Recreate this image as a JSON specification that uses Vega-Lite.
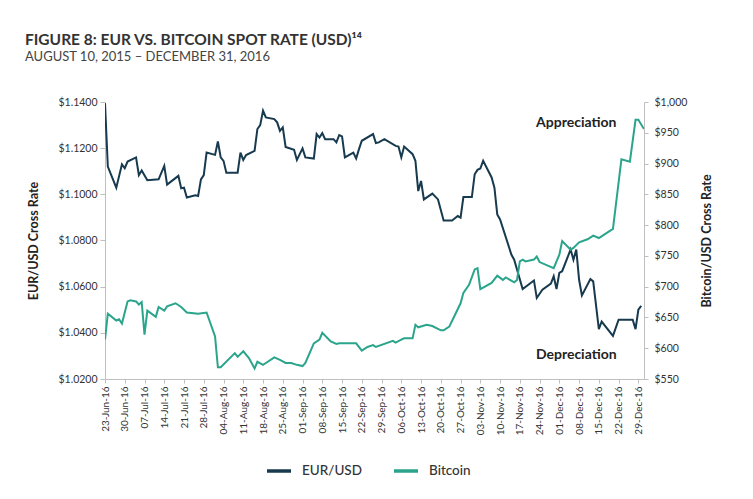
{
  "$schema": "https://vega.github.io/schema/vega-lite/v6.json",
  "width": 539,
  "height": 277,
  "autosize": {"type": "none"},
  "padding": {"left": 105, "top": 102, "right": 109, "bottom": 120},
  "background": "white",
  "title": {
    "text": "FIGURE 8: EUR VS. BITCOIN SPOT RATE (USD)¹⁴",
    "subtitle": "AUGUST 10, 2015 – DECEMBER 31, 2016",
    "anchor": "start",
    "frame": "group",
    "dx": -80,
    "offset": 33,
    "font": "Lato",
    "fontSize": 15.5,
    "fontWeight": "bold",
    "color": "#333333",
    "subtitleFont": "Lato",
    "subtitleFontSize": 13,
    "subtitleColor": "#444444",
    "subtitlePadding": 3
  },
  "datasets": {
    "rates": [
      {"date": "2016-06-23", "series": "EUR/USD", "value": 1.1395},
      {"date": "2016-06-24", "series": "EUR/USD", "value": 1.1120},
      {"date": "2016-06-27", "series": "EUR/USD", "value": 1.1029},
      {"date": "2016-06-29", "series": "EUR/USD", "value": 1.1130},
      {"date": "2016-06-30", "series": "EUR/USD", "value": 1.1113},
      {"date": "2016-07-01", "series": "EUR/USD", "value": 1.1142},
      {"date": "2016-07-04", "series": "EUR/USD", "value": 1.1160},
      {"date": "2016-07-05", "series": "EUR/USD", "value": 1.1083},
      {"date": "2016-07-06", "series": "EUR/USD", "value": 1.1103},
      {"date": "2016-07-08", "series": "EUR/USD", "value": 1.1061},
      {"date": "2016-07-12", "series": "EUR/USD", "value": 1.1065},
      {"date": "2016-07-14", "series": "EUR/USD", "value": 1.1123},
      {"date": "2016-07-15", "series": "EUR/USD", "value": 1.1042},
      {"date": "2016-07-19", "series": "EUR/USD", "value": 1.1080},
      {"date": "2016-07-20", "series": "EUR/USD", "value": 1.1026},
      {"date": "2016-07-21", "series": "EUR/USD", "value": 1.1029},
      {"date": "2016-07-22", "series": "EUR/USD", "value": 1.0986},
      {"date": "2016-07-25", "series": "EUR/USD", "value": 1.0996},
      {"date": "2016-07-26", "series": "EUR/USD", "value": 1.0993},
      {"date": "2016-07-27", "series": "EUR/USD", "value": 1.1065},
      {"date": "2016-07-28", "series": "EUR/USD", "value": 1.1083},
      {"date": "2016-07-29", "series": "EUR/USD", "value": 1.1181},
      {"date": "2016-08-01", "series": "EUR/USD", "value": 1.1171},
      {"date": "2016-08-02", "series": "EUR/USD", "value": 1.1229},
      {"date": "2016-08-03", "series": "EUR/USD", "value": 1.1160},
      {"date": "2016-08-04", "series": "EUR/USD", "value": 1.1145},
      {"date": "2016-08-05", "series": "EUR/USD", "value": 1.1094},
      {"date": "2016-08-09", "series": "EUR/USD", "value": 1.1094},
      {"date": "2016-08-10", "series": "EUR/USD", "value": 1.1181},
      {"date": "2016-08-11", "series": "EUR/USD", "value": 1.1149},
      {"date": "2016-08-12", "series": "EUR/USD", "value": 1.1170},
      {"date": "2016-08-15", "series": "EUR/USD", "value": 1.1188},
      {"date": "2016-08-16", "series": "EUR/USD", "value": 1.1283},
      {"date": "2016-08-17", "series": "EUR/USD", "value": 1.1300},
      {"date": "2016-08-18", "series": "EUR/USD", "value": 1.1362},
      {"date": "2016-08-19", "series": "EUR/USD", "value": 1.1333},
      {"date": "2016-08-22", "series": "EUR/USD", "value": 1.1326},
      {"date": "2016-08-23", "series": "EUR/USD", "value": 1.1312},
      {"date": "2016-08-24", "series": "EUR/USD", "value": 1.1275},
      {"date": "2016-08-25", "series": "EUR/USD", "value": 1.1290},
      {"date": "2016-08-26", "series": "EUR/USD", "value": 1.1205},
      {"date": "2016-08-29", "series": "EUR/USD", "value": 1.1193},
      {"date": "2016-08-30", "series": "EUR/USD", "value": 1.1149},
      {"date": "2016-09-01", "series": "EUR/USD", "value": 1.1199},
      {"date": "2016-09-02", "series": "EUR/USD", "value": 1.1160},
      {"date": "2016-09-05", "series": "EUR/USD", "value": 1.1155},
      {"date": "2016-09-06", "series": "EUR/USD", "value": 1.1261},
      {"date": "2016-09-07", "series": "EUR/USD", "value": 1.1246},
      {"date": "2016-09-08", "series": "EUR/USD", "value": 1.1265},
      {"date": "2016-09-09", "series": "EUR/USD", "value": 1.1239},
      {"date": "2016-09-12", "series": "EUR/USD", "value": 1.1239},
      {"date": "2016-09-13", "series": "EUR/USD", "value": 1.1225},
      {"date": "2016-09-14", "series": "EUR/USD", "value": 1.1257},
      {"date": "2016-09-15", "series": "EUR/USD", "value": 1.1251},
      {"date": "2016-09-16", "series": "EUR/USD", "value": 1.1160},
      {"date": "2016-09-19", "series": "EUR/USD", "value": 1.1181},
      {"date": "2016-09-20", "series": "EUR/USD", "value": 1.1155},
      {"date": "2016-09-21", "series": "EUR/USD", "value": 1.1196},
      {"date": "2016-09-22", "series": "EUR/USD", "value": 1.1232},
      {"date": "2016-09-26", "series": "EUR/USD", "value": 1.1261},
      {"date": "2016-09-27", "series": "EUR/USD", "value": 1.1222},
      {"date": "2016-09-28", "series": "EUR/USD", "value": 1.1225},
      {"date": "2016-09-30", "series": "EUR/USD", "value": 1.1239},
      {"date": "2016-10-04", "series": "EUR/USD", "value": 1.1210},
      {"date": "2016-10-05", "series": "EUR/USD", "value": 1.1207},
      {"date": "2016-10-06", "series": "EUR/USD", "value": 1.1160},
      {"date": "2016-10-07", "series": "EUR/USD", "value": 1.1207},
      {"date": "2016-10-10", "series": "EUR/USD", "value": 1.1174},
      {"date": "2016-10-11", "series": "EUR/USD", "value": 1.1145},
      {"date": "2016-10-12", "series": "EUR/USD", "value": 1.1014},
      {"date": "2016-10-13", "series": "EUR/USD", "value": 1.1058},
      {"date": "2016-10-14", "series": "EUR/USD", "value": 1.0978},
      {"date": "2016-10-17", "series": "EUR/USD", "value": 1.1003},
      {"date": "2016-10-19", "series": "EUR/USD", "value": 1.0978},
      {"date": "2016-10-21", "series": "EUR/USD", "value": 1.0887},
      {"date": "2016-10-24", "series": "EUR/USD", "value": 1.0887},
      {"date": "2016-10-26", "series": "EUR/USD", "value": 1.0906},
      {"date": "2016-10-27", "series": "EUR/USD", "value": 1.0899},
      {"date": "2016-10-28", "series": "EUR/USD", "value": 1.0988},
      {"date": "2016-10-31", "series": "EUR/USD", "value": 1.0988},
      {"date": "2016-11-01", "series": "EUR/USD", "value": 1.1087},
      {"date": "2016-11-02", "series": "EUR/USD", "value": 1.1106},
      {"date": "2016-11-03", "series": "EUR/USD", "value": 1.1112},
      {"date": "2016-11-04", "series": "EUR/USD", "value": 1.1145},
      {"date": "2016-11-07", "series": "EUR/USD", "value": 1.1073},
      {"date": "2016-11-08", "series": "EUR/USD", "value": 1.1029},
      {"date": "2016-11-09", "series": "EUR/USD", "value": 1.0913},
      {"date": "2016-11-10", "series": "EUR/USD", "value": 1.0891},
      {"date": "2016-11-14", "series": "EUR/USD", "value": 1.0739},
      {"date": "2016-11-15", "series": "EUR/USD", "value": 1.0717},
      {"date": "2016-11-18", "series": "EUR/USD", "value": 1.0590},
      {"date": "2016-11-22", "series": "EUR/USD", "value": 1.0627},
      {"date": "2016-11-23", "series": "EUR/USD", "value": 1.0551},
      {"date": "2016-11-25", "series": "EUR/USD", "value": 1.0587},
      {"date": "2016-11-28", "series": "EUR/USD", "value": 1.0613},
      {"date": "2016-11-29", "series": "EUR/USD", "value": 1.0645},
      {"date": "2016-11-30", "series": "EUR/USD", "value": 1.0590},
      {"date": "2016-12-01", "series": "EUR/USD", "value": 1.0660},
      {"date": "2016-12-02", "series": "EUR/USD", "value": 1.0667},
      {"date": "2016-12-05", "series": "EUR/USD", "value": 1.0761},
      {"date": "2016-12-06", "series": "EUR/USD", "value": 1.0717},
      {"date": "2016-12-07", "series": "EUR/USD", "value": 1.0761},
      {"date": "2016-12-08", "series": "EUR/USD", "value": 1.0630},
      {"date": "2016-12-09", "series": "EUR/USD", "value": 1.0562},
      {"date": "2016-12-12", "series": "EUR/USD", "value": 1.0633},
      {"date": "2016-12-13", "series": "EUR/USD", "value": 1.0623},
      {"date": "2016-12-15", "series": "EUR/USD", "value": 1.0416},
      {"date": "2016-12-16", "series": "EUR/USD", "value": 1.0449},
      {"date": "2016-12-20", "series": "EUR/USD", "value": 1.0387},
      {"date": "2016-12-22", "series": "EUR/USD", "value": 1.0457},
      {"date": "2016-12-27", "series": "EUR/USD", "value": 1.0457},
      {"date": "2016-12-28", "series": "EUR/USD", "value": 1.0416},
      {"date": "2016-12-29", "series": "EUR/USD", "value": 1.0500},
      {"date": "2016-12-30", "series": "EUR/USD", "value": 1.0517},
      {"date": "2016-06-23", "series": "Bitcoin", "value": 614},
      {"date": "2016-06-24", "series": "Bitcoin", "value": 656},
      {"date": "2016-06-27", "series": "Bitcoin", "value": 645},
      {"date": "2016-06-28", "series": "Bitcoin", "value": 647},
      {"date": "2016-06-29", "series": "Bitcoin", "value": 640},
      {"date": "2016-07-01", "series": "Bitcoin", "value": 676},
      {"date": "2016-07-02", "series": "Bitcoin", "value": 678},
      {"date": "2016-07-04", "series": "Bitcoin", "value": 676},
      {"date": "2016-07-05", "series": "Bitcoin", "value": 671},
      {"date": "2016-07-06", "series": "Bitcoin", "value": 675},
      {"date": "2016-07-07", "series": "Bitcoin", "value": 622},
      {"date": "2016-07-08", "series": "Bitcoin", "value": 661},
      {"date": "2016-07-11", "series": "Bitcoin", "value": 651},
      {"date": "2016-07-12", "series": "Bitcoin", "value": 667},
      {"date": "2016-07-14", "series": "Bitcoin", "value": 661},
      {"date": "2016-07-15", "series": "Bitcoin", "value": 668},
      {"date": "2016-07-18", "series": "Bitcoin", "value": 673},
      {"date": "2016-07-20", "series": "Bitcoin", "value": 667},
      {"date": "2016-07-22", "series": "Bitcoin", "value": 658},
      {"date": "2016-07-26", "series": "Bitcoin", "value": 656},
      {"date": "2016-07-29", "series": "Bitcoin", "value": 658},
      {"date": "2016-08-01", "series": "Bitcoin", "value": 619},
      {"date": "2016-08-02", "series": "Bitcoin", "value": 569},
      {"date": "2016-08-03", "series": "Bitcoin", "value": 569},
      {"date": "2016-08-08", "series": "Bitcoin", "value": 592},
      {"date": "2016-08-09", "series": "Bitcoin", "value": 586},
      {"date": "2016-08-11", "series": "Bitcoin", "value": 595},
      {"date": "2016-08-13", "series": "Bitcoin", "value": 584},
      {"date": "2016-08-15", "series": "Bitcoin", "value": 567},
      {"date": "2016-08-16", "series": "Bitcoin", "value": 578},
      {"date": "2016-08-18", "series": "Bitcoin", "value": 573},
      {"date": "2016-08-19", "series": "Bitcoin", "value": 576},
      {"date": "2016-08-22", "series": "Bitcoin", "value": 585},
      {"date": "2016-08-24", "series": "Bitcoin", "value": 581},
      {"date": "2016-08-26", "series": "Bitcoin", "value": 576},
      {"date": "2016-08-28", "series": "Bitcoin", "value": 576},
      {"date": "2016-08-30", "series": "Bitcoin", "value": 573},
      {"date": "2016-09-01", "series": "Bitcoin", "value": 571},
      {"date": "2016-09-02", "series": "Bitcoin", "value": 576},
      {"date": "2016-09-05", "series": "Bitcoin", "value": 608},
      {"date": "2016-09-07", "series": "Bitcoin", "value": 614},
      {"date": "2016-09-08", "series": "Bitcoin", "value": 625},
      {"date": "2016-09-11", "series": "Bitcoin", "value": 611},
      {"date": "2016-09-13", "series": "Bitcoin", "value": 607},
      {"date": "2016-09-14", "series": "Bitcoin", "value": 608},
      {"date": "2016-09-20", "series": "Bitcoin", "value": 608},
      {"date": "2016-09-22", "series": "Bitcoin", "value": 596},
      {"date": "2016-09-24", "series": "Bitcoin", "value": 602},
      {"date": "2016-09-26", "series": "Bitcoin", "value": 605},
      {"date": "2016-09-27", "series": "Bitcoin", "value": 602},
      {"date": "2016-10-03", "series": "Bitcoin", "value": 612},
      {"date": "2016-10-04", "series": "Bitcoin", "value": 609},
      {"date": "2016-10-06", "series": "Bitcoin", "value": 614},
      {"date": "2016-10-07", "series": "Bitcoin", "value": 616},
      {"date": "2016-10-10", "series": "Bitcoin", "value": 616},
      {"date": "2016-10-11", "series": "Bitcoin", "value": 638},
      {"date": "2016-10-12", "series": "Bitcoin", "value": 634},
      {"date": "2016-10-15", "series": "Bitcoin", "value": 638},
      {"date": "2016-10-17", "series": "Bitcoin", "value": 636},
      {"date": "2016-10-20", "series": "Bitcoin", "value": 629},
      {"date": "2016-10-21", "series": "Bitcoin", "value": 629},
      {"date": "2016-10-23", "series": "Bitcoin", "value": 635},
      {"date": "2016-10-25", "series": "Bitcoin", "value": 654},
      {"date": "2016-10-27", "series": "Bitcoin", "value": 673},
      {"date": "2016-10-28", "series": "Bitcoin", "value": 690},
      {"date": "2016-10-30", "series": "Bitcoin", "value": 703},
      {"date": "2016-11-01", "series": "Bitcoin", "value": 728},
      {"date": "2016-11-02", "series": "Bitcoin", "value": 730},
      {"date": "2016-11-03", "series": "Bitcoin", "value": 696},
      {"date": "2016-11-07", "series": "Bitcoin", "value": 706},
      {"date": "2016-11-09", "series": "Bitcoin", "value": 718},
      {"date": "2016-11-11", "series": "Bitcoin", "value": 711},
      {"date": "2016-11-12", "series": "Bitcoin", "value": 715},
      {"date": "2016-11-15", "series": "Bitcoin", "value": 707},
      {"date": "2016-11-16", "series": "Bitcoin", "value": 711},
      {"date": "2016-11-17", "series": "Bitcoin", "value": 741},
      {"date": "2016-11-18", "series": "Bitcoin", "value": 744},
      {"date": "2016-11-19", "series": "Bitcoin", "value": 741},
      {"date": "2016-11-22", "series": "Bitcoin", "value": 744},
      {"date": "2016-11-23", "series": "Bitcoin", "value": 749},
      {"date": "2016-11-24", "series": "Bitcoin", "value": 740},
      {"date": "2016-11-29", "series": "Bitcoin", "value": 730},
      {"date": "2016-12-01", "series": "Bitcoin", "value": 752},
      {"date": "2016-12-02", "series": "Bitcoin", "value": 774},
      {"date": "2016-12-05", "series": "Bitcoin", "value": 760},
      {"date": "2016-12-06", "series": "Bitcoin", "value": 763},
      {"date": "2016-12-08", "series": "Bitcoin", "value": 772},
      {"date": "2016-12-11", "series": "Bitcoin", "value": 777},
      {"date": "2016-12-13", "series": "Bitcoin", "value": 783},
      {"date": "2016-12-15", "series": "Bitcoin", "value": 779},
      {"date": "2016-12-20", "series": "Bitcoin", "value": 794},
      {"date": "2016-12-23", "series": "Bitcoin", "value": 907},
      {"date": "2016-12-26", "series": "Bitcoin", "value": 903},
      {"date": "2016-12-28", "series": "Bitcoin", "value": 971},
      {"date": "2016-12-29", "series": "Bitcoin", "value": 971},
      {"date": "2016-12-31", "series": "Bitcoin", "value": 956}
    ],
    "notes": [
      {"date": "2016-12-07", "value": 1.1309, "label": "Appreciation"},
      {"date": "2016-12-07", "value": 1.0304, "label": "Depreciation"}
    ]
  },
  "data": {"name": "rates"},
  "encoding": {
    "x": {
      "field": "date",
      "type": "temporal",
      "scale": {
        "type": "utc",
        "domain": [
          {"year": 2016, "month": 6, "date": 23, "utc": true},
          {"year": 2016, "month": 12, "date": 31, "utc": true}
        ]
      },
      "axis": {
        "title": null,
        "format": "%d-%b-%y",
        "labelAngle": -90,
        "labelOverlap": false,
        "labelFontSize": 10,
        "tickSize": 4,
        "labelPadding": 3,
        "values": [
          {"year": 2016, "month": 6, "date": 23, "utc": true},
          {"year": 2016, "month": 6, "date": 30, "utc": true},
          {"year": 2016, "month": 7, "date": 7, "utc": true},
          {"year": 2016, "month": 7, "date": 14, "utc": true},
          {"year": 2016, "month": 7, "date": 21, "utc": true},
          {"year": 2016, "month": 7, "date": 28, "utc": true},
          {"year": 2016, "month": 8, "date": 4, "utc": true},
          {"year": 2016, "month": 8, "date": 11, "utc": true},
          {"year": 2016, "month": 8, "date": 18, "utc": true},
          {"year": 2016, "month": 8, "date": 25, "utc": true},
          {"year": 2016, "month": 9, "date": 1, "utc": true},
          {"year": 2016, "month": 9, "date": 8, "utc": true},
          {"year": 2016, "month": 9, "date": 15, "utc": true},
          {"year": 2016, "month": 9, "date": 22, "utc": true},
          {"year": 2016, "month": 9, "date": 29, "utc": true},
          {"year": 2016, "month": 10, "date": 6, "utc": true},
          {"year": 2016, "month": 10, "date": 13, "utc": true},
          {"year": 2016, "month": 10, "date": 20, "utc": true},
          {"year": 2016, "month": 10, "date": 27, "utc": true},
          {"year": 2016, "month": 11, "date": 3, "utc": true},
          {"year": 2016, "month": 11, "date": 10, "utc": true},
          {"year": 2016, "month": 11, "date": 17, "utc": true},
          {"year": 2016, "month": 11, "date": 24, "utc": true},
          {"year": 2016, "month": 12, "date": 1, "utc": true},
          {"year": 2016, "month": 12, "date": 8, "utc": true},
          {"year": 2016, "month": 12, "date": 15, "utc": true},
          {"year": 2016, "month": 12, "date": 22, "utc": true},
          {"year": 2016, "month": 12, "date": 29, "utc": true}
        ]
      }
    }
  },
  "layer": [
    {
      "encoding": {
        "y": {
          "field": "value",
          "type": "quantitative",
          "scale": {"domain": [1.02, 1.14], "zero": false, "nice": false},
          "axis": {
            "orient": "left",
            "title": "EUR/USD Cross Rate",
            "format": "$.4f",
            "values": [1.02, 1.04, 1.06, 1.08, 1.10, 1.12, 1.14],
            "tickSize": 5,
            "labelPadding": 3,
            "titlePadding": 17
          }
        }
      },
      "layer": [
        {
          "transform": [{"filter": "datum.series === 'EUR/USD'"}],
          "mark": {"type": "line", "strokeWidth": 2, "clip": true},
          "encoding": {
            "color": {
              "field": "series",
              "type": "nominal",
              "scale": {"domain": ["EUR/USD", "Bitcoin"], "range": ["#173a4f", "#2aa58b"]},
              "legend": {
                "orient": "none",
                "legendX": 160,
                "legendY": 355,
                "direction": "horizontal",
                "title": null,
                "symbolType": "stroke",
                "symbolSize": 576,
                "symbolStrokeWidth": 3.5,
                "labelFont": "Lato",
                "labelFontSize": 13.5,
                "labelFontWeight": 500,
                "labelColor": "#333333",
                "labelOffset": 9,
                "columnPadding": 25
              }
            }
          }
        },
        {
          "data": {"name": "notes"},
          "mark": {"type": "text", "font": "Lato", "fontSize": 14, "fontWeight": "bold", "color": "#222222", "align": "center", "baseline": "middle"},
          "encoding": {"text": {"field": "label", "type": "nominal"}}
        }
      ]
    },
    {
      "transform": [{"filter": "datum.series === 'Bitcoin'"}],
      "mark": {"type": "line", "strokeWidth": 2, "clip": true},
      "encoding": {
        "y": {
          "field": "value",
          "type": "quantitative",
          "scale": {"domain": [550, 1000], "zero": false, "nice": false},
          "axis": {
            "orient": "right",
            "title": "Bitcoin/USD Cross Rate",
            "format": "$,.0f",
            "values": [550, 600, 650, 700, 750, 800, 850, 900, 950, 1000],
            "tickSize": 4,
            "labelPadding": 6,
            "titlePadding": 14,
            "titleAngle": 270,
            "titleBaseline": "top"
          }
        },
        "color": {"field": "series", "type": "nominal"}
      }
    }
  ],
  "resolve": {"scale": {"y": "independent"}},
  "config": {
    "view": {"stroke": null},
    "font": "Lato",
    "axis": {
      "grid": false,
      "domainColor": "#bfbfbf",
      "tickColor": "#bfbfbf",
      "labelColor": "#333333",
      "titleColor": "#222222",
      "labelFont": "Lato",
      "titleFont": "Lato",
      "labelFontSize": 10.5,
      "titleFontSize": 12.5,
      "titleFontWeight": "bold"
    }
  }
}
